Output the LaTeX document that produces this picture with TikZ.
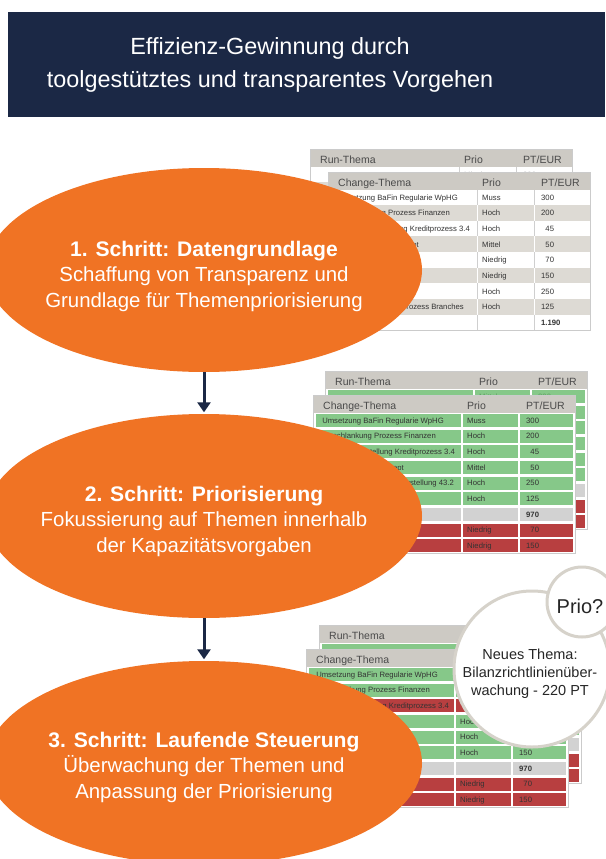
\documentclass[tikz,border=0pt]{standalone}
\usepackage{fontspec}
\setmainfont{Liberation Sans}
\usetikzlibrary{shapes.geometric,arrows.meta}
\definecolor{navy}{HTML}{1B2845}
\definecolor{stepor}{HTML}{F07324}
\definecolor{hdr}{HTML}{CDCAC4}
\definecolor{rowgray}{HTML}{DDDAD4}
\definecolor{grn}{HTML}{86C889}
\definecolor{redc}{HTML}{B83F40}
\definecolor{tot}{HTML}{D2D2D2}
\definecolor{tborder}{HTML}{CBCBCB}
\definecolor{tsep}{HTML}{CFCFCF}
\definecolor{circ}{HTML}{D6D2CA}
\definecolor{ttxt}{HTML}{333333}
\definecolor{htxt}{HTML}{4A4A4A}
\definecolor{fade}{HTML}{B5B5B5}
\definecolor{fadeg}{HTML}{5F9E63}
\tikzset{
  headw/.style={anchor=base west,inner sep=0pt,text=htxt,font=\fontsize{10.5}{12}\selectfont},
  cellw/.style={anchor=base west,inner sep=0pt,text=ttxt,font=\fontsize{7.7}{9}\selectfont},
  celle/.style={anchor=base east,inner sep=0pt,text=ttxt,font=\fontsize{7.7}{9}\selectfont},
  titlebox/.style={fill=navy,minimum width=597pt,minimum height=105pt,inner sep=0pt},
  titletxt/.style={text=white,align=center,font=\fontsize{23.4}{33}\selectfont},
  stepell/.style={ellipse,fill=stepor,minimum width=436pt,minimum height=204pt,inner sep=0pt},
  steptxt/.style={text=white,align=center,font=\fontsize{20.4}{25.5}\selectfont},
  flowarrow/.style={draw=navy,line width=3pt,-{Triangle[length=10pt,width=13pt]},shorten >=1.5pt},
  bigcirc/.style={circle,draw=circ,line width=3pt,fill=white,minimum size=156pt,inner sep=0pt},
  smallcirc/.style={circle,draw=circ,line width=3pt,fill=white,minimum size=70pt,inner sep=0pt},
  circtxt/.style={text=black!85,align=center,font=\fontsize{14.5}{18}\selectfont},
}
\newcommand{\stepbold}[1]{{\fontsize{21.1}{25.5}\selectfont\bfseries #1}}
% plain table: name, x, y, title, rows (i/bg/sep/endx/text1/text2/text3), prio head, pt head
\newcommand{\plaintab}[7]{%
  \begin{scope}[shift={(#2,#3)}]
    \fill[white] (0,0) rectangle (262,158.5);
    \fill[hdr] (0,0) rectangle (262,17.5);
    \foreach \i/\bgc/\sepc/\txe/\txa/\txb/\txc in {#5}{%
      \pgfmathsetmacro\yt{17.5+(\i-1)*15.65}%
      \pgfmathsetmacro\yb{17.5+\i*15.65}%
      \pgfmathsetmacro\yl{17.5+(\i-1)*15.65+10.8}%
      \fill[\bgc] (0,\yt) rectangle (262,\yb);
      \draw[\sepc,line width=1pt] (149,\yt) -- (149,\yb) (206,\yt) -- (206,\yb);
      \node[celle] (#1-\i-a) at (\txe,\yl) {\txa};
      \node[cellw] (#1-\i-b) at (154,\yl) {\txb};
      \node[cellw] (#1-\i-c) at (213,\yl) {\txc};
    }
    \draw[tborder,line width=1pt] (0,0) rectangle (262,158.5);
    \node[headw] (#1-h1) at (10,14) {#4};
    \node[headw] (#1-h2) at (154,14) {#6};
    \node[headw] (#1-h3) at (213,14) {#7};
  \end{scope}}
% coloured table: name, x, y, title, rows (i/c1/c2/c3/endx/text1/text2/text3), prio head, pt head
\newcommand{\colortab}[7]{%
  \begin{scope}[shift={(#2,#3)}]
    \fill[white] (0,0) rectangle (262,158.5);
    \fill[hdr] (0,0) rectangle (262,17.5);
    \foreach \i/\fca/\fcb/\fcc/\txe/\txa/\txb/\txc in {#5}{%
      \pgfmathsetmacro\yt{17.5+(\i-1)*15.65}%
      \pgfmathsetmacro\yb{17.5+\i*15.65}%
      \pgfmathsetmacro\yl{17.5+(\i-1)*15.65+10.8}%
      \fill[\fca] (2.5,\yt+1.5) rectangle (148,\yb-1);
      \fill[\fcb] (150,\yt+1.5) rectangle (205,\yb-1);
      \fill[\fcc] (207,\yt+1.5) rectangle (260,\yb-1);
      \node[celle] (#1-\i-a) at (\txe,\yl) {\txa};
      \node[cellw] (#1-\i-b) at (154,\yl) {\txb};
      \node[cellw] (#1-\i-c) at (213,\yl) {\txc};
    }
    \draw[tborder,line width=1pt] (0,0) rectangle (262,158.5);
    \node[headw] (#1-h1) at (10,14) {#4};
    \node[headw] (#1-h2) at (154,14) {#6};
    \node[headw] (#1-h3) at (213,14) {#7};
  \end{scope}}
\begin{document}
\begin{tikzpicture}[x=1pt,y=-1pt]
\useasboundingbox (0,0) rectangle (605,859);
\fill[white] (0,0) rectangle (605,859);
% title
\node[titlebox] (title) at (306.5,64.5) {};
\node[titletxt] (titletext) at (270,65) {Effizienz-Gewinnung durch\\toolgestütztes und transparentes Vorgehen};
% tables step 1
\plaintab{runA}{310}{149}{Run-Thema}{
  1/white/tsep/100/{}/{\color{fade}Mittel}/{\color{fade}300},
  2/rowgray/white/100/{}/{}/{},
  3/white/tsep/100/{}/{}/{},
  4/rowgray/white/100/{}/{}/{},
  5/white/tsep/100/{}/{}/{},
  6/rowgray/white/100/{}/{}/{},
  7/white/tsep/100/{}/{}/{},
  8/rowgray/white/100/{}/{}/{},
  9/white/tsep/100/{}/{}/{}}{Prio}{PT/EUR}
\plaintab{chgA}{328}{172}{Change-Thema}{
  1/white/tsep/130/{Umsetzung BaFin Regularie WpHG}/Muss/300,
  2/rowgray/white/122/{Verschlankung Prozess Finanzen}/Hoch/200,
  3/white/tsep/142/{Umstellung Kreditprozess 3.4}/Hoch/{\hphantom{0}45},
  4/rowgray/white/91/{Berechtigungskonzept}/Mittel/{\hphantom{0}50},
  5/white/tsep/100/{}/Niedrig/{\hphantom{0}70},
  6/rowgray/white/100/{}/Niedrig/150,
  7/white/tsep/100/{}/Hoch/250,
  8/rowgray/white/136/{Anpassung Prozess Branches}/Hoch/125,
  9/white/tsep/100/{}/{}/{\textbf{1.190}}}{Prio}{PT/EUR}
% tables step 2
\colortab{runB}{325}{371}{Run-Thema}{
  1/grn/grn/grn/100/{}/{\color{fadeg}Mittel}/{\color{fadeg}300},
  2/grn/grn/grn/100/{}/{}/{},
  3/grn/grn/grn/100/{}/{}/{},
  4/grn/grn/grn/100/{}/{}/{},
  5/grn/grn/grn/100/{}/{}/{},
  6/grn/grn/grn/100/{}/{}/{},
  7/tot/tot/tot/100/{}/{}/{},
  8/redc/redc/redc/100/{}/{}/{},
  9/redc/redc/redc/100/{}/{}/{}}{Prio}{PT/EUR}
\colortab{chgB}{313}{395}{Change-Thema}{
  1/grn/grn/grn/131/{Umsetzung BaFin Regularie WpHG}/Muss/300,
  2/grn/grn/grn/123/{Verschlankung Prozess Finanzen}/Hoch/200,
  3/grn/grn/grn/142/{Umstellung Kreditprozess 3.4}/Hoch/{\hphantom{0}45},
  4/grn/grn/grn/91/{Berechtigungskonzept}/Mittel/{\hphantom{0}50},
  5/grn/grn/grn/141/{Fertigstellung 43.2}/Hoch/250,
  6/grn/grn/grn/100/{}/Hoch/125,
  7/tot/tot/tot/100/{}/{}/{\textbf{970}},
  8/redc/redc/redc/100/{}/Niedrig/{\hphantom{0}70},
  9/redc/redc/redc/100/{}/Niedrig/150}{Prio}{PT/EUR}
% tables step 3 (column heads hidden behind the circle)
\colortab{runC}{319}{625}{Run-Thema}{
  1/grn/grn/grn/100/{}/{}/{},
  2/grn/grn/grn/100/{}/{}/{},
  3/grn/grn/grn/100/{}/{}/{},
  4/grn/grn/grn/100/{}/{}/{},
  5/grn/grn/grn/100/{}/{}/{},
  6/grn/grn/grn/100/{}/{}/{},
  7/tot/tot/tot/100/{}/{}/{},
  8/redc/redc/redc/100/{}/{}/{},
  9/redc/redc/redc/100/{}/{}/{}}{}{}
\colortab{chgC}{306}{649}{Change-Thema}{
  1/grn/grn/grn/132/{Umsetzung BaFin Regularie WpHG}/{}/{},
  2/grn/grn/grn/124/{Verschlankung Prozess Finanzen}/{}/{},
  3/redc/redc/redc/143/{Umstellung Kreditprozess 3.4}/{}/{},
  4/grn/grn/grn/100/{}/Hoch/{},
  5/grn/grn/grn/100/{}/Hoch/{},
  6/grn/grn/grn/100/{}/Hoch/150,
  7/tot/tot/tot/100/{}/{}/{\textbf{970}},
  8/redc/redc/redc/100/{}/Niedrig/{\hphantom{0}70},
  9/redc/redc/redc/100/{}/Niedrig/150}{}{}
% steps
\node[stepell] (e1) at (204,270) {};
\node[steptxt] (t1) at (204,276) {\stepbold{1. Schritt: Datengrundlage}\\Schaffung von Transparenz und\\Grundlage für Themenpriorisierung};
\node[stepell] (e2) at (204,516) {};
\node[steptxt] (t2) at (204,521) {\stepbold{2. Schritt: Priorisierung}\\Fokussierung auf Themen innerhalb\\der Kapazitätsvorgaben};
\node[stepell] (e3) at (204,763) {};
\node[steptxt] (t3) at (204,767) {\stepbold{3. Schritt: Laufende Steuerung}\\Überwachung der Themen und\\Anpassung der Priorisierung};
\draw[flowarrow] (e1) -- (e2);
\draw[flowarrow] (e2) -- (e3);
% circles
\node[bigcirc] (newc) at (532,669) {};
\node[circtxt] (newt) at (530,674) {Neues Thema:\\Bilanzrichtlinienüber-\\wachung - 220 PT};
\node[smallcirc] (prioc) at (582,602) {};
\node[circtxt,font=\fontsize{20}{24}\selectfont] (priot) at (580,606) {Prio?};
\end{tikzpicture}
\end{document}
